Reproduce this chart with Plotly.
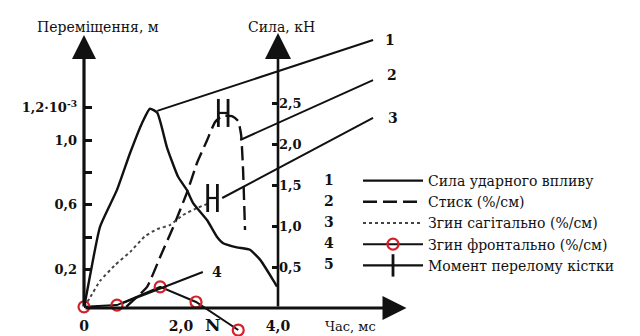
import plotly.graph_objects as go

# ---------------- data ----------------
# 1: impact force, kN (right axis)
t_force = [0, 0.12, 0.33, 0.68, 0.95, 1.20, 1.36, 1.51, 1.71, 1.94, 2.12, 2.25,
           2.54, 2.74, 2.87, 3.15, 3.42, 3.63, 3.90, 3.98]
force_kN = [0, 0.38, 0.99, 1.44, 1.89, 2.26, 2.43, 2.38, 1.96, 1.60, 1.44, 1.28,
            1.07, 0.87, 0.79, 0.74, 0.71, 0.59, 0.34, 0.26]

# 2: compression (left axis units)
t_compr = [0.87, 1.30, 1.57, 1.84, 2.12, 2.33, 2.54, 2.70, 2.85, 3.05, 3.18,
           3.24, 3.28, 3.32]
v_compr = [-0.03, 0.093, 0.278, 0.463, 0.673, 0.858, 1.00, 1.11, 1.148, 1.148,
           1.117, 1.031, 0.815, 0.444]

# 3: sagittal bending
t_sag = [0, 0.12, 0.33, 0.64, 0.95, 1.26, 1.51, 1.77, 2.04, 2.33, 2.54]
v_sag = [-0.03, 0.025, 0.13, 0.228, 0.309, 0.407, 0.45, 0.475, 0.537, 0.58, 0.605]

# 4: frontal bending
t_front = [0, 0.68, 1.57, 2.31, 3.18]
v_front = [-0.03, -0.019, 0.093, 0.0, -0.173]

# 5: moments of bone fracture (time, level)
t_fract = [2.87, 2.65]
v_fract = [1.167, 0.642]
fract_gap = 0.1

# axis ticks
left_ticks = [0.2, 0.4, 0.6, 0.8, 1.0, 1.2]
left_labels = ["0,2", "", "0,6", "", "1,0", "1,2·10<sup>-3</sup>"]
right_ticks = [0.5, 1.0, 1.5, 2.0, 2.5]
right_labels = ["0,5", "1,0", "1,5", "2,0", "2,5"]
x_ticks = [0, 2, 4]
x_labels = ["0", "2,0", "4,0"]

# curve call-outs: (from t, from v) -> (to t, to v), label position
call_labels = ["1", "2", "3", "4"]
call_from_t = [1.51, 3.22, 2.85, 0.80]
call_from_v = [1.18, 1.00, 0.642, -0.006]
call_to_t = [5.96, 5.96, 5.96, 2.45]
call_to_v = [1.617, 1.37, 1.136, 0.185]
call_lab_t = [6.31, 6.35, 6.37, 2.74]
call_lab_v = [1.617, 1.40, 1.136, 0.185]

names = ["Сила ударного впливу", "Стиск (%/см)", "Згин сагітально (%/см)",
         "Згин фронтально (%/см)", "Момент перелому кістки"]

# ---------------- layout geometry ----------------
# page is offset by the 8px default body margin
OFF = 8
W, H = 640 - OFF, 336 - OFF
PL, PR, PT, PB = 84, 410, 30, 336          # plot area in page pixels
L, R, T, B = PL - OFF, W - (PR - OFF), PT - OFF, H - (PB - OFF)
pw, ph = PR - PL, PB - PT
px_per_ms = 48.5
x_max = pw / px_per_ms
# left axis: zero at page pixel 302, 162 px per unit
left_lo = -(PB - 302) / 162.0
left_hi = (302 - PT) / 162.0
# right axis: zero at page pixel 308, 82 px per kN
right_lo = -(PB - 308) / 82.0
right_hi = (308 - PT) / 82.0


def paper_x(px):
    return (px - PL) / pw


def paper_y(py):
    return (PB - py) / ph


FONT = "DejaVu Serif"
INK = "#111111"
RED = "#d42028"

fig = go.Figure()

fig.add_trace(go.Scatter(x=t_force, y=force_kN, yaxis="y2", mode="lines",
                         line=dict(color=INK, width=2.4, shape="spline", smoothing=0.5),
                         name=names[0]))
fig.add_trace(go.Scatter(x=t_compr, y=v_compr, mode="lines",
                         line=dict(color=INK, width=2.4, dash="14px,6px", shape="spline", smoothing=0.4),
                         name=names[1]))
fig.add_trace(go.Scatter(x=t_sag, y=v_sag, mode="lines",
                         line=dict(color="#444444", width=2, dash="dot", shape="spline", smoothing=0.4),
                         name=names[2]))
fig.add_trace(go.Scatter(x=t_front, y=v_front, mode="lines+markers", cliponaxis=False,
                         line=dict(color=INK, width=2),
                         marker=dict(symbol="circle-open", size=11, color=RED,
                                     line=dict(width=2.2, color=RED)),
                         name=names[3]))

fx, fy = [], []
for t, v in zip(t_fract, v_fract):
    fx += [t - fract_gap, t + fract_gap, None]
    fy += [v, v, None]
fig.add_trace(go.Scatter(x=fx, y=fy, mode="lines+markers", connectgaps=False,
                         line=dict(color=INK, width=2.2),
                         marker=dict(symbol="line-ns-open", size=20, color=INK,
                                     line=dict(width=2.8, color=INK)),
                         name=names[4]))

# call-out leader lines and labels
for lab, x0, y0, x1, y1, lx, ly in zip(call_labels, call_from_t, call_from_v,
                                       call_to_t, call_to_v, call_lab_t, call_lab_v):
    fig.add_shape(type="line", xref="x", yref="y", x0=x0, y0=y0, x1=x1, y1=y1,
                  line=dict(color=INK, width=2))
    fig.add_annotation(x=lx, y=ly, xref="x", yref="y", text="<b>%s</b>" % lab,
                       showarrow=False, xanchor="center", yanchor="middle",
                       font=dict(family=FONT, size=14, color=INK))

fig.add_annotation(x=-0.19, y=0.0, xref="x", yref="y", text="<b>3</b>", showarrow=False,
                   xanchor="center", yanchor="middle",
                   font=dict(family=FONT, size=14, color=INK))
fig.add_annotation(x=2.66, y=-0.14, xref="x", yref="y", text="<b>N</b>", showarrow=False,
                   xanchor="center", yanchor="middle",
                   font=dict(family=FONT, size=17, color=INK))

# axes drawn as arrows
fig.add_annotation(x=6.65, y=0, xref="x", yref="y2", ax=0, ay=0, axref="x", ayref="y2",
                   text="", showarrow=True, arrowhead=2, arrowsize=1.6, arrowwidth=3,
                   arrowcolor=INK)
fig.add_annotation(x=0, y=(302 - 35) / 162.0, xref="x", yref="y", ax=0, ay=-0.037,
                   axref="x", ayref="y", text="", showarrow=True, arrowhead=2,
                   arrowsize=1.5, arrowwidth=3.2, arrowcolor=INK)
fig.add_annotation(x=4, y=(308 - 33) / 82.0, xref="x", yref="y2", ax=4, ay=0,
                   axref="x", ayref="y2", text="", showarrow=True, arrowhead=2,
                   arrowsize=2.0, arrowwidth=2.6, arrowcolor=INK)

# axis titles
for txt, px, py, sz in [("Переміщення, м", 98, 27, 14), ("Сила, кН", 281, 27, 14),
                        ("Час, мс", 350, 326, 13)]:
    fig.add_annotation(x=paper_x(px), y=paper_y(py), xref="paper", yref="paper",
                       text=txt, showarrow=False, xanchor="center", yanchor="middle",
                       font=dict(family=FONT, size=sz, color=INK))

# legend numbers
legend_rows = [180, 201, 222, 243, 264]
for i, py in enumerate(legend_rows):
    fig.add_annotation(x=paper_x(329), y=paper_y(py), xref="paper", yref="paper",
                       text="<b>%d</b>" % (i + 1), showarrow=False,
                       xanchor="center", yanchor="middle",
                       font=dict(family=FONT, size=14, color=INK))

fig.update_layout(
    width=W, height=H,
    margin=dict(l=L, r=R, t=T, b=B, pad=0),
    paper_bgcolor="white", plot_bgcolor="white",
    font=dict(family=FONT, color=INK),
    showlegend=True,
    legend=dict(x=paper_x(358), y=paper_y(165), xanchor="left", yanchor="top",
                bgcolor="rgba(0,0,0,0)", font=dict(family=FONT, size=14, color=INK),
                itemwidth=60, tracegroupgap=0),
    xaxis=dict(range=[0, x_max], anchor="free", position=paper_y(308),
               showgrid=False, zeroline=False, showline=False, ticks="",
               tickvals=x_ticks, ticktext=x_labels, ticklabelstandoff=8,
               tickfont=dict(family=FONT, size=14, color=INK, weight="bold")),
    yaxis=dict(range=[left_lo, left_hi], showgrid=False, zeroline=False, showline=False,
               ticks="inside", ticklen=8, tickwidth=3, tickcolor=INK,
               tickvals=left_ticks, ticktext=left_labels, ticklabelstandoff=6,
               tickfont=dict(family=FONT, size=13, color=INK, weight="bold")),
    yaxis2=dict(range=[right_lo, right_hi], overlaying="y", anchor="free",
                position=paper_x(278), side="right", showgrid=False, zeroline=False,
                showline=False, ticks="inside", ticklen=6, tickwidth=3, tickcolor=INK,
                tickvals=right_ticks, ticktext=right_labels,
                tickfont=dict(family=FONT, size=13, color=INK, weight="bold")),
)

fig.write_html("out.html")
